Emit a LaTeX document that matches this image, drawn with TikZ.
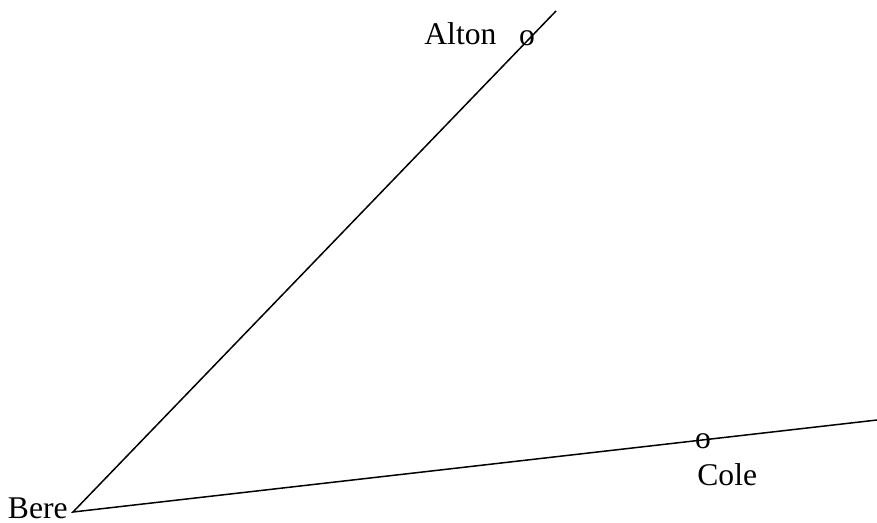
\documentclass[tikz,border=0pt]{standalone}
\usepackage{fontspec}
\setmainfont{Liberation Serif}
\begin{document}
\begin{tikzpicture}[x=0.5pt,y=-0.5pt,
  lbl/.style={inner sep=0pt,font=\fontsize{15.8}{18}\selectfont},
  edge/.style={draw=black,line width=0.75pt}]
\useasboundingbox (0,0) rectangle (877,523);
\coordinate (B) at (73,512);
\coordinate (A) at (556,11);
\coordinate (C) at (877,420);
\draw[edge] (A) -- (B) -- (C);
\node[lbl] (ao) at (527,38) {o};
\node[lbl] (co) at (703,441) {o};
\node[lbl,anchor=base west] (alton) at (424,45) {Alton};
\node[lbl,anchor=base west] (cole) at (697,485) {Cole};
\node[lbl,anchor=base east] (bere) at (68,518) {Bere};
\end{tikzpicture}
\end{document}
